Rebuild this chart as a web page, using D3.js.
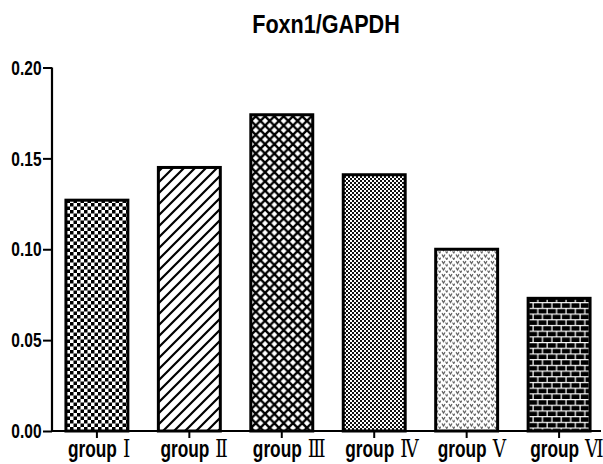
<!DOCTYPE html>
<html><head><meta charset="utf-8">
<script src="https://cdn.jsdelivr.net/npm/d3@7/dist/d3.min.js"></script>
<style>body{margin:0;background:#fff}</style>
</head><body>
<svg id="c" width="603" height="464"></svg>
<script>
const categories = ["Ⅰ","Ⅱ","Ⅲ","Ⅳ","Ⅴ","Ⅵ"];
const values = [0.127, 0.145, 0.174, 0.141, 0.100, 0.073];
const yTicks = [0.00, 0.05, 0.10, 0.15, 0.20];
const patterns = ["checker","diag","cross","fine","dots","brick"];

(function(){
const svg = d3.select("#c");
const defs = svg.append("defs");
const SANS = "Liberation Sans, Arial, sans-serif";
const SY = 1.35;
let p = defs.append("pattern").attr("id","checker").attr("patternUnits","userSpaceOnUse").attr("width",7).attr("height",7);
p.append("rect").attr("width",7).attr("height",7).attr("fill","#fff");
p.append("rect").attr("width",3.5).attr("height",3.5).attr("fill","#000");
p.append("rect").attr("x",3.5).attr("y",3.5).attr("width",3.5).attr("height",3.5).attr("fill","#000");

p = defs.append("pattern").attr("id","diag").attr("patternUnits","userSpaceOnUse").attr("width",11).attr("height",11);
p.append("rect").attr("width",11).attr("height",11).attr("fill","#fff");
p.append("path").attr("d","M-2,13 L13,-2 M-2,2 L2,-2 M9,13 L13,9").attr("stroke","#000").attr("stroke-width",2.2);

p = defs.append("pattern").attr("id","cross").attr("patternUnits","userSpaceOnUse").attr("width",9.3).attr("height",9.3);
p.append("rect").attr("width",9.3).attr("height",9.3).attr("fill","#fff");
p.append("path").attr("d","M-1,10.3 L10.3,-1 M-1,-1 L10.3,10.3").attr("stroke","#000").attr("stroke-width",2.4);

p = defs.append("pattern").attr("id","fine").attr("patternUnits","userSpaceOnUse").attr("width",4).attr("height",4);
p.append("rect").attr("width",4).attr("height",4).attr("fill","#fff");
p.append("rect").attr("width",2).attr("height",2).attr("fill","#111");
p.append("rect").attr("x",2).attr("y",2).attr("width",2).attr("height",2).attr("fill","#111");

p = defs.append("pattern").attr("id","dots").attr("patternUnits","userSpaceOnUse").attr("width",7).attr("height",6.5);
p.append("rect").attr("width",7).attr("height",6.5).attr("fill","#fff");
p.append("path").attr("d","M1,1 L2.5,3.5 L4,1 M4.5,4.2 L5.8,6 L6.8,4.2").attr("stroke","#555").attr("stroke-width",1.1).attr("fill","none");

p = defs.append("pattern").attr("id","brick").attr("patternUnits","userSpaceOnUse").attr("width",9.4).attr("height",11.4);
p.append("rect").attr("width",9.4).attr("height",11.4).attr("fill","#000");
p.append("path").attr("d","M0,0.5 H9.4 M0,6.2 H9.4 M2,0 V5.7 M6.7,5.7 V11.4").attr("stroke","#fff").attr("stroke-width",1.2);

const L = 52, R = 601, T = 67.5, B = 431;
const x = d3.scaleBand().domain(categories).range([53, 603]).paddingInner(0.33).paddingOuter(0.14);
const y = d3.scaleLinear().domain([0, 0.20]).range([B, T]);

svg.append("text").attr("transform",`translate(326,33) scale(1,1.17)`).attr("text-anchor","middle")
  .attr("font-family",SANS).attr("font-weight","bold").attr("font-size",21.6).text("Foxn1/GAPDH");

svg.append("g").selectAll("rect").data(values).join("rect")
  .attr("x",(d,i)=>x(categories[i])).attr("width",x.bandwidth())
  .attr("y",d=>y(d)).attr("height",d=>B-y(d))
  .attr("fill",(d,i)=>`url(#${patterns[i]})`).attr("stroke","#000").attr("stroke-width",3);

const ya = svg.append("g").attr("transform",`translate(${L},0)`)
  .call(d3.axisLeft(y).tickValues(yTicks).tickFormat(d3.format(".2f")).tickSize(9).tickPadding(1.5));
ya.select(".domain").attr("stroke-width",2.2).attr("d",`M0,${T}V${B}`);
ya.selectAll(".tick line").attr("stroke-width",2);
ya.selectAll("text").attr("font-family",SANS).attr("font-weight","bold").attr("font-size",15.5).attr("fill","#000")
  .attr("transform",`scale(1,${SY})`);

const xa = svg.append("g").attr("transform",`translate(0,${B})`)
  .call(d3.axisBottom(x).tickSize(7).tickFormat(""));
xa.select(".domain").attr("stroke-width",2.2).attr("d",`M${L},0H${R}`);
xa.selectAll(".tick line").attr("stroke-width",2);

const lab = svg.append("g").selectAll("g").data(categories).join("g")
  .attr("transform",d=>`translate(${x(d)},457) scale(1,${SY})`);
lab.append("text").attr("x",2).attr("font-family",SANS).attr("font-weight","bold").attr("font-size",17.3).text("group");
lab.append("text").attr("x",57).attr("font-family","'DejaVu Serif', 'Liberation Serif', serif").attr("font-size",18.5).text(d=>d);
})();
</script>
</body></html>
